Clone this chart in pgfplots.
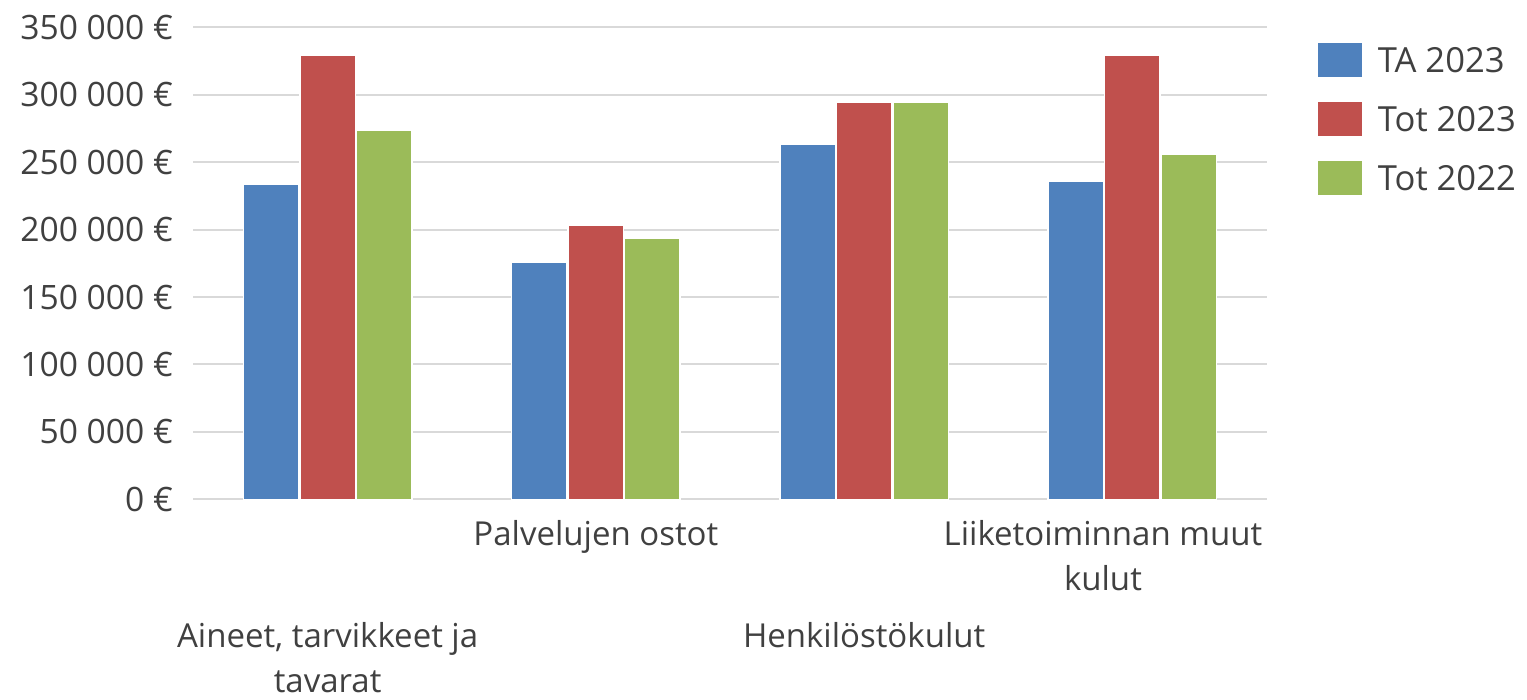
\documentclass[border=0pt]{standalone}
\usepackage{pgfplots}
\pgfplotsset{compat=1.18}
\usepackage{fontspec}
\setmainfont{Open Sans}
\definecolor{cA}{HTML}{4F81BD}
\definecolor{cB}{HTML}{C0504D}
\definecolor{cC}{HTML}{9BBB59}
\definecolor{gridc}{HTML}{D9D9D9}
\definecolor{txt}{HTML}{404040}
\begin{document}
\begin{tikzpicture}
\useasboundingbox (-96.75pt,-100.35pt) rectangle (666.75pt,249.65pt);
\begin{axis}[
  at={(0,0)}, anchor=south west,
  scale only axis, width=536.5pt, height=236pt,
  xmin=-0.5, xmax=3.5, ymin=0, ymax=350000,
  axis line style={draw=none},
  ymajorgrids, grid style={gridc, line width=1pt},
  major tick length=0pt,
  ytick={0,50000,100000,150000,200000,250000,300000,350000},
  yticklabels={0 €,50 000 €,100 000 €,150 000 €,200 000 €,250 000 €,300 000 €,350 000 €},
  scaled y ticks=false,
  yticklabel style={anchor=east, inner sep=0pt, xshift=-10.1pt, text height=12pt, text depth=0pt,
    font=\fontsize{16.8pt}{20pt}\selectfont, text=txt},
  xtick={1,3},
  xticklabels={{\rule{0pt}{13pt}Palvelujen ostot},{\rule{0pt}{13pt}Liiketoiminnan muut\rule{29.4pt}{0pt}\\kulut\rule{29.4pt}{0pt}}},
  extra x ticks={0,2},
  extra x tick labels={{\rule{0pt}{13pt}Aineet, tarvikkeet ja\\tavarat},{\rule{0pt}{13pt}Henkilöstökulut}},
  extra x tick style={xticklabel style={yshift=-50.6pt}},
  xticklabel style={anchor=north, inner sep=0pt, yshift=-10.1pt, align=center,
    font=\fontsize{16.5pt}{22.5pt}\selectfont, text=txt},
  legend style={at={(1,1)}, anchor=north west, xshift=25.9pt, yshift=-8pt,
    draw=none, fill=none, inner sep=0pt, outer sep=0pt, row sep=12.55pt,
    font=\fontsize{17.3pt}{20pt}\selectfont, text=txt,
    nodes={inner sep=0pt, outer sep=0pt}},
  legend cell align=left,
  /tikz/every odd column/.append style={column sep=7.8pt},
  legend image code/.code={\fill[#1, draw=none] (0pt,-8.05pt) rectangle (22pt,8.95pt);},
]
\addplot[ybar, bar width=0.207, bar shift=-0.2107, fill=cA, draw=white, line width=0.7pt]
  coordinates {(0,233800) (1,175700) (2,262900) (3,235500)};
\addplot[ybar, bar width=0.207, bar shift=0, fill=cB, draw=white, line width=0.7pt]
  coordinates {(0,328900) (1,202900) (2,294100) (3,328900)};
\addplot[ybar, bar width=0.207, bar shift=0.2107, fill=cC, draw=white, line width=0.7pt]
  coordinates {(0,273800) (1,193800) (2,294100) (3,255800)};
\legend{TA 2023, Tot 2023, Tot 2022}
\end{axis}
\end{tikzpicture}
\end{document}
